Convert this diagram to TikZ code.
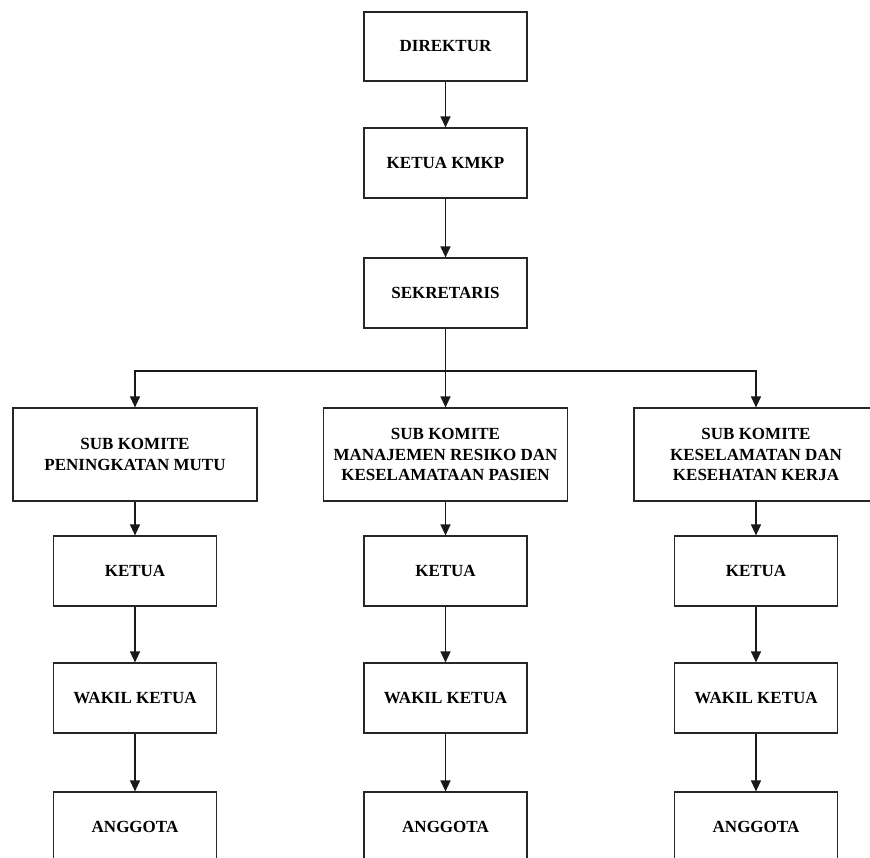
\documentclass[tikz,border=0pt]{standalone}
\usepackage{fontspec}
\setmainfont{Liberation Serif}
\usetikzlibrary{arrows.meta}
\begin{document}
\begin{tikzpicture}[x=1pt,y=-1pt,
  box/.style={draw=black!85,line width=1.2pt,fill=white,inner sep=0pt,
    minimum width=163pt,minimum height=70pt,align=center,
    font=\fontsize{17}{20.5}\selectfont\bfseries},
  subbox/.style={box,minimum width=244pt,minimum height=93pt},
  link/.style={draw=black!90,line width=1.3pt},
  arr/.style={link,-{Triangle[width=10pt,length=11pt]}}]
\useasboundingbox (0,0) rectangle (870,857);
\clip (0,0) rectangle (870,857);
\fill[white] (0,0) rectangle (870,857);

% top chain
\node[box,minimum height=69pt] (dir) at (445.5,46.5) {DIREKTUR};
\node[box] (kmkp) at (445.5,163) {KETUA KMKP};
\node[box] (sek) at (445.5,293) {SEKRETARIS};

% sub committees
\node[subbox] (sub1) at (135,454.5) {SUB KOMITE\\PENINGKATAN MUTU};
\node[subbox] (sub2) at (445.5,454.5) {SUB KOMITE\\MANAJEMEN RESIKO DAN\\KESELAMATAAN PASIEN};
\node[subbox] (sub3) at (756,454.5) {SUB KOMITE\\KESELAMATAN DAN\\KESEHATAN KERJA};

% members of each sub committee
\foreach \i/\cx in {1/135,2/445.5,3/756}{
  \node[box] (ket\i) at (\cx,571) {KETUA};
  \node[box] (wak\i) at (\cx,698) {WAKIL KETUA};
  \node[box] (ang\i) at (\cx,827) {ANGGOTA};
}

% connectors
\draw[arr] (dir.south) -- (kmkp.north);
\draw[arr] (kmkp.south) -- (sek.north);
\coordinate (jm) at (445.5,371);
\draw[link] (sek.south) -- (jm);
\draw[arr] (jm) -| (sub1.north);
\draw[arr] (jm) -- (sub2.north);
\draw[arr] (jm) -| (sub3.north);
\foreach \i in {1,2,3}{
  \draw[arr] (sub\i.south) -- (ket\i.north);
  \draw[arr] (ket\i.south) -- (wak\i.north);
  \draw[arr] (wak\i.south) -- (ang\i.north);
}
\end{tikzpicture}
\end{document}
